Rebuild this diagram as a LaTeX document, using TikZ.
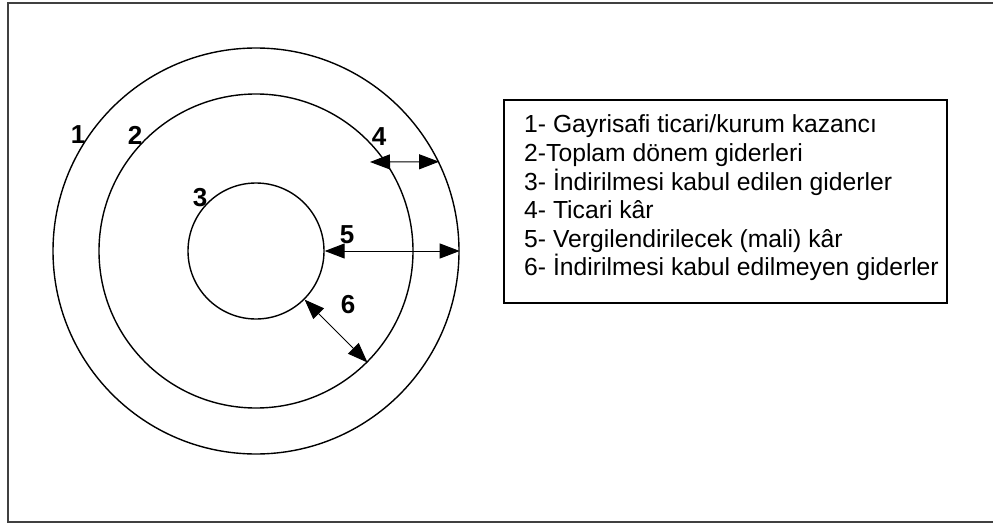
\documentclass[tikz,border=0pt]{standalone}
\usepackage{fontspec}
\setmainfont{Liberation Sans}
\usetikzlibrary{arrows.meta}
\tikzset{
  ring/.style={circle, draw, line width=1.4pt, inner sep=0pt},
  dim/.style={line width=1pt, {Triangle[length=20pt,width=15pt]}-{Triangle[length=20pt,width=15pt]}},
  numlabel/.style={font=\fontsize{26}{30}\selectfont\bfseries, inner sep=0pt},
  legendline/.style={font=\fontsize{24.7}{30}\selectfont, inner sep=0pt, anchor=base west},
}
\begin{document}
\begin{tikzpicture}[x=1pt,y=-1pt]
\useasboundingbox (0,0) rectangle (993,524);
% frame (open to the right)
\draw[line width=2.2pt, black!75] (1010,3) -- (8,3) -- (8,522) -- (1010,522);
% circles
\node[ring, minimum size=406pt] (outer) at (256,251) {};
\node[ring, minimum size=314pt] (mid) at (256,251) {};
\node[ring, minimum size=136pt] (inner) at (256,251) {};
% dimension arrows
\coordinate (a4) at (370,162);
\draw[dim] (a4) -- (outer.26);
\draw[dim] (inner.east) -- (outer.east);
\draw[dim] (inner.-45) -- (mid.-45);
% labels
\node[numlabel] (n1) at (78,135) {1};
\node[numlabel] (n2) at (135,135) {2};
\node[numlabel] (n3) at (200,198) {3};
\node[numlabel] (n4) at (379,137) {4};
\node[numlabel] (n5) at (347,235) {5};
\node[numlabel] (n6) at (348,305) {6};
% legend
\draw[line width=1.5pt] (504,100) rectangle (947,303);
\node[legendline] (l1) at (524,133) {1- Gayrisafi ticari/kurum kazancı};
\node[legendline] (l2) at (524,161.5) {2-Toplam dönem giderleri};
\node[legendline] (l3) at (524,190) {3- İndirilmesi kabul edilen giderler};
\node[legendline] (l4) at (524,218.5) {4- Ticari kâr};
\node[legendline] (l5) at (524,247) {5- Vergilendirilecek (mali) kâr};
\node[legendline] (l6) at (524,275.5) {6- İndirilmesi kabul edilmeyen giderler};
\end{tikzpicture}
\end{document}
